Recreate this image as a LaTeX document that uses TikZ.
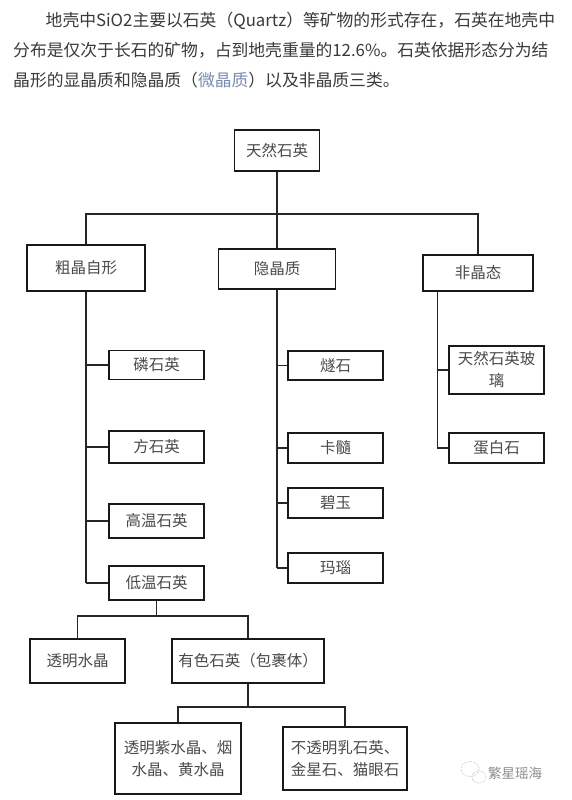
\documentclass[tikz,border=0pt]{standalone}
\usepackage{fontspec}
\setmainfont{Noto Sans CJK SC}
\definecolor{bodytext}{HTML}{3A3A3A}
\definecolor{linktext}{HTML}{7A8CB0}
\definecolor{boxtext}{HTML}{4A4A4A}
\tikzset{
  box/.style={draw=black!90, line width=1.2pt, text=boxtext, inner sep=0pt,
    align=center, font=\fontsize{15.5}{22}\selectfont},
  conn/.style={black!85, line width=1.1pt},
  para/.style={anchor=west, inner sep=0pt, text=bodytext,
    font=\fontsize{16.8}{20}\selectfont}
}
\begin{document}
\begin{tikzpicture}[x=1pt,y=-1pt]
            % page
            \fill[white] (0,0) rectangle (571,800);
            \useasboundingbox (0,0) rectangle (571,800);

            % intro text
            \node[para] (l1) at (45.5,21) {地壳中SiO2主要以石英（Quartz）等矿物的形式存在，石英在地壳中};
            \node[para] (l2) at (13,50) {分布是仅次于长石的矿物，占到地壳重量的12.6\%。石英依据形态分为结};
            \node[para] (l3) at (13,80) {晶形的显晶质和隐晶质（{\color{linktext}微晶质}）以及非晶质三类。};

            % top levels
            \node[box, minimum width=85pt, minimum height=41pt] (trsy) at (277,150.5) {天然石英};
            \node[box, minimum width=118pt, minimum height=46pt] (cjzx) at (86,268) {粗晶自形};
            \node[box, minimum width=117pt, minimum height=40pt] (yjz) at (277,269) {隐晶质};
            \node[box, minimum width=110pt, minimum height=36pt] (fjt) at (478,273) {非晶态};

            % crystalline quartz
            \node[box, minimum width=95pt, minimum height=29pt] (lsy) at (156.5,365) {磷石英};
            \node[box, minimum width=95pt, minimum height=32pt] (fsy) at (156.5,447) {方石英};
            \node[box, minimum width=95pt, minimum height=34pt] (gwsy) at (156.5,521) {高温石英};
            \node[box, minimum width=95pt, minimum height=34pt] (dwsy) at (156.5,583) {低温石英};

            % cryptocrystalline
            \node[box, minimum width=95pt, minimum height=29pt] (ss) at (335.5,365.5) {燧石};
            \node[box, minimum width=95pt, minimum height=30pt] (ks) at (335.5,448) {卡髓};
            \node[box, minimum width=95pt, minimum height=30pt] (by) at (335.5,503) {碧玉};
            \node[box, minimum width=95pt, minimum height=30pt] (mn) at (335.5,568) {玛瑙};

            % amorphous
            \node[box, minimum width=95pt, minimum height=48pt] (bl) at (496.5,370) {天然石英玻\\璃};
            \node[box, minimum width=95pt, minimum height=30pt] (dbs) at (496.5,448) {蛋白石};

            % low quartz
            \node[box, minimum width=95pt, minimum height=44pt] (tmsj) at (77.5,661) {透明水晶};
            \node[box, minimum width=152pt, minimum height=44pt] (yssy) at (248,661) {有色石英（包裹体）};
            \node[box, minimum width=126pt, minimum height=71pt] (zsj) at (178,758.5) {透明紫水晶、烟\\水晶、黄水晶};
            \node[box, minimum width=124pt, minimum height=63pt] (btm) at (345,758.5) {不透明乳石英、\\金星石、猫眼石};

            % connectors
            \coordinate (bus) at (0,214);
            \draw[conn] (trsy.south) -- (yjz.north);
            \draw[conn] (cjzx.north) -- (cjzx.north |- bus) -- (fjt.north |- bus) -- (fjt.north);

            \draw[conn] (cjzx.south) -- (cjzx.south |- dwsy.west);
            \foreach \n in {lsy,fsy,gwsy,dwsy}
              \draw[conn] (\n.west) -- (\n.west -| cjzx.south);
            \draw[conn] (yjz.south) -- (yjz.south |- mn.west);
            \foreach \n in {ss,ks,by,mn}
              \draw[conn] (\n.west) -- (\n.west -| yjz.south);
            \coordinate (fjtdown) at ([xshift=15pt]fjt.south west);
            \draw[conn] (fjtdown) -- (fjtdown |- dbs.west);
            \foreach \n in {bl,dbs}
              \draw[conn] (\n.west) -- (\n.west -| fjtdown);

            \coordinate (bus2) at (0,616);
            \draw[conn] (dwsy.south) -- (dwsy.south |- bus2);
            \draw[conn] (tmsj.north) -- (tmsj.north |- bus2) -- (yssy.north |- bus2) -- (yssy.north);
            \coordinate (bus3) at (0,707);
            \draw[conn] (yssy.south) -- (yssy.south |- bus3);
            \draw[conn] (zsj.north) -- (zsj.north |- bus3) -- (btm.north |- bus3) -- (btm.north);

            % watermark
            \draw[black!30, line width=0.6pt, densely dotted] (470,769) ellipse (9 and 7.5);
            \draw[black!30, line width=0.6pt, densely dotted] (479,777) ellipse (7 and 6);
            \node[anchor=west, inner sep=0pt, text=black!45, font=\fontsize{13.5}{15}\selectfont] (wm) at (488,773) {繁星瑶海};
\end{tikzpicture}
\end{document}
